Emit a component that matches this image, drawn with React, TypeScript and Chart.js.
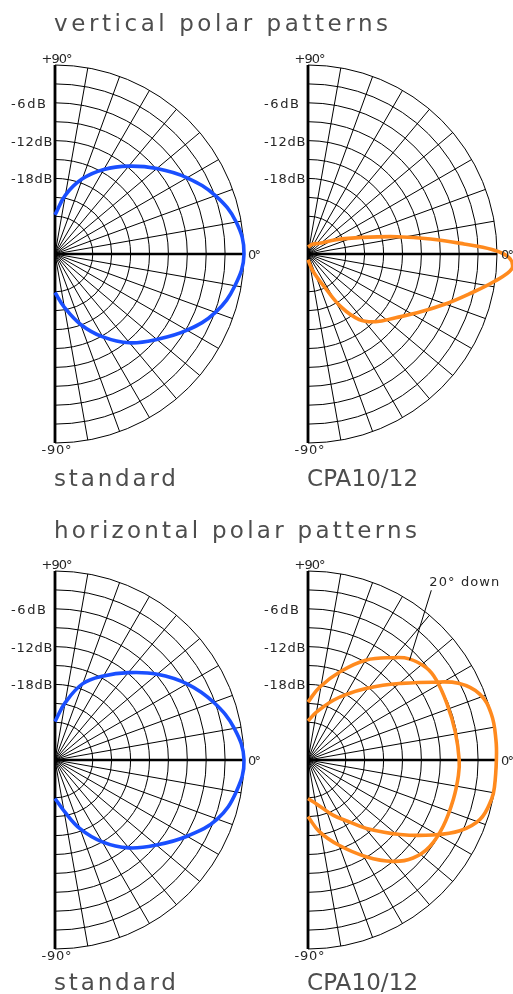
import { useEffect, useRef } from "react";
import { Chart, registerables } from "chart.js";

Chart.register(...registerables);

// ---------------- data ----------------
const FLOOR_DB = -30;
const RING_DB = [-24, -21, -18, -15, -12, -9, -6, -3, 0];
const SPOKE_DEG = [-80, -70, -60, -50, -40, -30, -20, -10, 10, 20, 30, 40, 50, 60, 70, 80];
const DB_TICKS = [-6, -12, -18];
const DB_TICK_LABELS = ["-6dB", "-12dB", "-18dB"];
const ANGLE_TICK_LABELS = ["+90°", "0°", "-90°"];
const ROW_TITLES = ["vertical polar patterns", "horizontal polar patterns"];
const MODEL_NAMES = ["standard", "CPA10/12"];
const ANNOTATION_TEXT = "20° down";
const ANNOTATION_TARGET = [44.5, -7.4]; // [angle°, dB] on the 20° down curve
const ANNOTATION_ANCHOR = [54, 3.3]; // [angle°, dB] where the leader meets the text

const stdVertAngles = [90, 80, 70, 60, 50, 40, 30, 20, 10, 0, -10, -20, -30, -40, -50, -60, -70, -80, -90];
const stdVertLevels = [-23.8, -20.5, -17.3, -14.5, -11.8, -8.9, -5.8, -2.9, -0.8, 0, -1.0, -2.9, -5.8, -8.9, -11.6, -14.8, -18.1, -21.4, -23.9];

const stdHorzAngles = [90, 80, 70, 60, 50, 40, 30, 20, 10, 0, -10, -20, -30, -40, -50, -60, -70, -80, -90];
const stdHorzLevels = [-23.9, -20.8, -17.1, -14.6, -11.9, -8.8, -5.8, -3.2, -1.1, 0, -0.8, -2.6, -5.8, -9.0, -11.8, -15.0, -18.4, -21.8, -23.9];

const cpaVertAngles = [90, 65, 43, 27, 17, 11, 7, 3.7, 1.4, -1, -4, -8.5, -14, -20, -28, -36, -45, -52, -58, -63, -74, -90];
const cpaVertLevels = [-28.9, -28.3, -27.5, -25.0, -21.0, -15.6, -10.4, -5.2, -0.8, 1.9, 2.5, -0.2, -3.7, -6.8, -10.2, -12.8, -14.8, -16.8, -20.1, -23.9, -27.2, -29.1];

const cpaHorzAngles = [90, 80, 67, 58, 51, 45, 40, 32, 27, 21, 14, 6, 0, -8, -12, -19, -25, -31, -39, -49.5, -56, -65.6, -79, -90];
const cpaHorzLevels = [-23.8, -22.3, -19.7, -17.5, -15.4, -13.2, -11.1, -6.7, -3.2, -0.8, 0, 0, -0.1, -0.1, -0.2, -1.1, -3.4, -6.9, -11.2, -15.7, -18.1, -20.4, -22.9, -23.9];

const cpaDownAngles = [90, 81, 70, 60, 50, 45, 38, 32, 22, 11, 0, -6, -15, -26, -35.5, -43, -50, -59, -70, -81, -90];
const cpaDownLevels = [-20.8, -18.3, -15.1, -11.7, -8.8, -7.3, -6.2, -6.0, -6.2, -6.2, -6.0, -6.0, -6.1, -6.1, -6.3, -7.2, -9.0, -12.1, -15.6, -18.5, -21.0];

// ---------------- styles / layout ----------------
const BLUE = "#1a4fff";
const ORANGE = "#ff8a1e";
const TEXT_COLOR = "#262626";
const TITLE_COLOR = "#4d4d4d";
const FONT = '"DejaVu Sans", sans-serif';
const PX_PER_DB = 6.3;
const PAGE_W = 513;

const toRad = (d: number) => (d * Math.PI) / 180;

function toPoints(angles: number[], levels: number[]) {
  return angles.map((a, i) => {
    const r = Math.max(0, levels[i] - FLOOR_DB);
    return { x: r * Math.cos(toRad(a)), y: r * Math.sin(toRad(a)) };
  });
}

function fitText(ctx: CanvasRenderingContext2D, text: string, x: number, y: number, font: string, width: number) {
  ctx.font = font;
  (ctx as any).letterSpacing = "0px";
  const w = ctx.measureText(text).width;
  const ls = (width - w) / Math.max(1, text.length - 1);
  (ctx as any).letterSpacing = ls.toFixed(2) + "px";
  ctx.fillText(text, x, y);
  (ctx as any).letterSpacing = "0px";
}

type Series = { angles: number[]; levels: number[]; color: string };
type PanelProps = {
  top: number;
  height: number;
  originX: number;
  originY: number;
  series: Series[];
  title?: string;
  titleWidth?: number;
  titleBaseline: number;
  name: string;
  nameWidth: number;
  nameBaseline: number;
  annotate?: boolean;
};

function Panel(p: PanelProps) {
  const ref = useRef<HTMLCanvasElement>(null);
  useEffect(() => {
    if (!ref.current) return;
    const W = PAGE_W;
    const H = p.height;

    const grid = {
      id: "polarGrid",
      beforeDatasetsDraw(chart: any) {
        const { ctx, scales } = chart;
        const sx = scales.x;
        const sy = scales.y;
        const cx = sx.getPixelForValue(0);
        const cy = sy.getPixelForValue(0);
        const rad = (db: number) => sx.getPixelForValue(db - FLOOR_DB) - cx;
        const R = rad(0);
        ctx.save();
        ctx.strokeStyle = "#000";
        ctx.lineWidth = 1;
        for (const lv of RING_DB) {
          ctx.beginPath();
          ctx.arc(cx, cy, rad(lv), -Math.PI / 2, Math.PI / 2);
          ctx.stroke();
        }
        for (const a of SPOKE_DEG) {
          const t = toRad(a);
          ctx.beginPath();
          ctx.moveTo(cx, cy);
          ctx.lineTo(cx + R * Math.cos(t), cy - R * Math.sin(t));
          ctx.stroke();
        }
        ctx.lineWidth = 2.8;
        ctx.beginPath();
        ctx.moveTo(cx, cy - R);
        ctx.lineTo(cx, cy + R);
        ctx.stroke();
        ctx.lineWidth = 2.4;
        ctx.beginPath();
        ctx.moveTo(cx, cy);
        ctx.lineTo(cx + R, cy);
        ctx.stroke();
        ctx.restore();
      },
      afterDatasetsDraw(chart: any) {
        const { ctx, scales } = chart;
        const sx = scales.x;
        const sy = scales.y;
        const cx = sx.getPixelForValue(0);
        const cy = sy.getPixelForValue(0);
        const rad = (db: number) => sx.getPixelForValue(db - FLOOR_DB) - cx;
        const R = rad(0);
        ctx.save();
        ctx.fillStyle = TEXT_COLOR;
        ctx.strokeStyle = "#000";
        ctx.textBaseline = "alphabetic";
        ctx.textAlign = "left";
        const small = `13px ${FONT}`;
        fitText(ctx, ANGLE_TICK_LABELS[0], cx - 13.5, cy - R - 1.7, small, 31);
        fitText(ctx, ANGLE_TICK_LABELS[2], cx - 13.5, cy + R + 11, small, 30);
        fitText(ctx, ANGLE_TICK_LABELS[1], cx + R + 4, cy + 5, small, 13);
        DB_TICKS.forEach((db, i) => {
          const lab = DB_TICK_LABELS[i];
          fitText(ctx, lab, cx - 44, cy - rad(db) + 5, small, lab.length === 4 ? 35 : 41.5);
        });
        ctx.fillStyle = TITLE_COLOR;
        const big = `23px ${FONT}`;
        if (p.title) fitText(ctx, p.title, cx - 1, p.titleBaseline, big, p.titleWidth || 330);
        fitText(ctx, p.name, cx - 1, p.nameBaseline, big, p.nameWidth);
        if (p.annotate) {
          ctx.fillStyle = TEXT_COLOR;
          const [ta, tl] = ANNOTATION_TARGET;
          const [aa, al] = ANNOTATION_ANCHOR;
          const x1 = cx + rad(tl) * Math.cos(toRad(ta));
          const y1 = cy - rad(tl) * Math.sin(toRad(ta));
          const x2 = cx + rad(al) * Math.cos(toRad(aa));
          const y2 = cy - rad(al) * Math.sin(toRad(aa));
          ctx.lineWidth = 1;
          ctx.beginPath();
          ctx.moveTo(x1, y1);
          ctx.lineTo(x2, y2);
          ctx.stroke();
          fitText(ctx, ANNOTATION_TEXT, x2 - 2, y2 - 4, small, 70);
        }
        ctx.restore();
      },
    };

    const chart = new Chart(ref.current, {
      type: "scatter",
      data: {
        datasets: p.series.map((s) => ({
          data: toPoints(s.angles, s.levels),
          borderColor: s.color,
          backgroundColor: s.color,
          borderWidth: 3.6,
          showLine: true,
          pointRadius: 0,
          tension: 0.4,
          fill: false,
        })),
      },
      options: {
        responsive: false,
        maintainAspectRatio: false,
        animation: false,
        events: [],
        layout: { padding: 0 },
        scales: {
          x: { type: "linear", display: false, min: -p.originX / PX_PER_DB, max: (W - p.originX) / PX_PER_DB },
          y: { type: "linear", display: false, min: -(H - p.originY) / PX_PER_DB, max: p.originY / PX_PER_DB },
        },
        plugins: { legend: { display: false }, tooltip: { enabled: false } },
      },
      plugins: [grid],
    } as any);
    return () => chart.destroy();
  }, []);
  return (
    <canvas
      ref={ref}
      width={PAGE_W}
      height={p.height}
      style={{ position: "absolute", left: 0, top: p.top, width: PAGE_W, height: p.height }}
    />
  );
}

export default function App() {
  return (
    <div style={{ position: "absolute", left: 0, top: 0, width: PAGE_W, height: 994, background: "#fff", overflow: "hidden" }}>
      <Panel
        top={0}
        height={500}
        originX={55}
        originY={254}
        series={[{ angles: stdVertAngles, levels: stdVertLevels, color: BLUE }]}
        title={ROW_TITLES[0]}
        titleWidth={334}
        titleBaseline={31}
        name={MODEL_NAMES[0]}
        nameWidth={122}
        nameBaseline={486}
      />
      <Panel
        top={0}
        height={500}
        originX={308}
        originY={254}
        series={[{ angles: cpaVertAngles, levels: cpaVertLevels, color: ORANGE }]}
        titleBaseline={31}
        name={MODEL_NAMES[1]}
        nameWidth={111}
        nameBaseline={486}
      />
      <Panel
        top={506}
        height={488}
        originX={55}
        originY={254}
        series={[{ angles: stdHorzAngles, levels: stdHorzLevels, color: BLUE }]}
        title={ROW_TITLES[1]}
        titleWidth={363}
        titleBaseline={32}
        name={MODEL_NAMES[0]}
        nameWidth={122}
        nameBaseline={484}
      />
      <Panel
        top={506}
        height={488}
        originX={308}
        originY={254}
        series={[
          { angles: cpaHorzAngles, levels: cpaHorzLevels, color: ORANGE },
          { angles: cpaDownAngles, levels: cpaDownLevels, color: ORANGE },
        ]}
        titleBaseline={32}
        name={MODEL_NAMES[1]}
        nameWidth={111}
        nameBaseline={484}
        annotate
      />
    </div>
  );
}
